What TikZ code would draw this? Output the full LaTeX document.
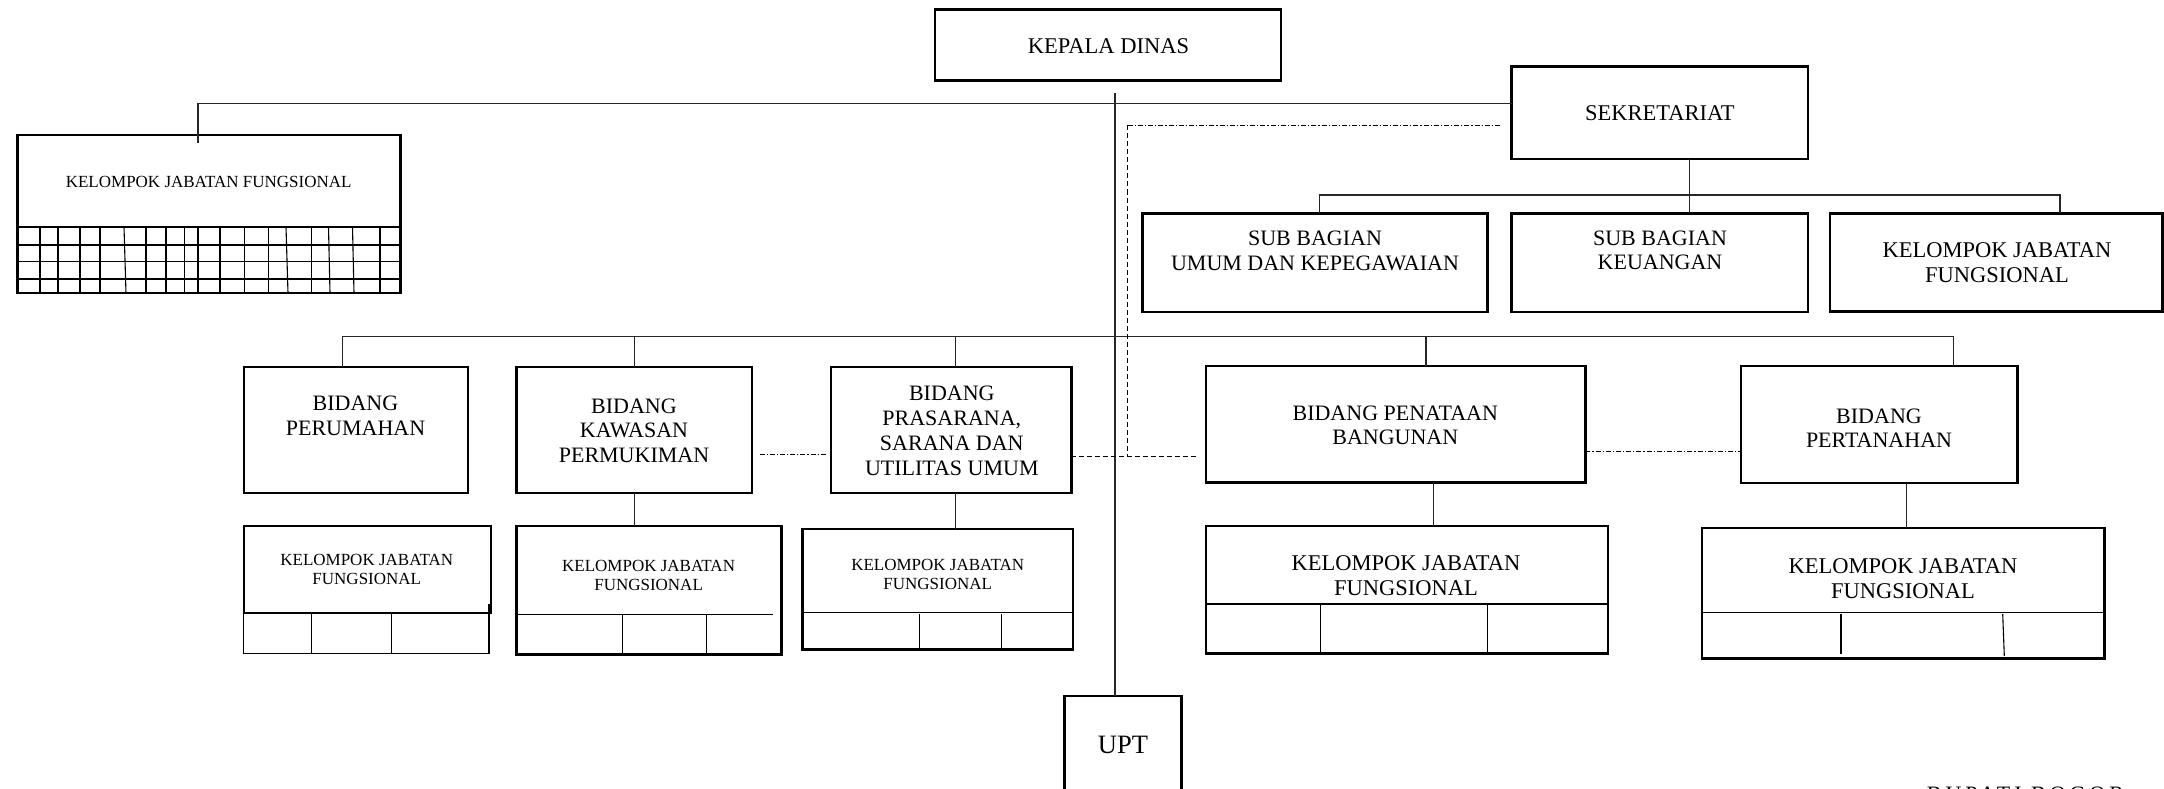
\documentclass[tikz,border=0pt]{standalone}
\usepackage{fontspec}
\setmainfont{Liberation Serif}
\newfontfamily\spacedfont[LetterSpace=18]{Liberation Serif}
\begin{document}
\begin{tikzpicture}[x=1pt,y=-1pt,
  box/.style={draw, line width=2.4pt, inner sep=0pt, outer sep=0pt, anchor=north west},
  conn/.style={line width=1.3pt, draw=black!85},
  thinl/.style={line width=1.1pt},
  divl/.style={line width=1.6pt},
  gridl/.style={line width=1.1pt},
  dashdot/.style={line width=1.1pt, dash pattern=on 5pt off 2pt on 1.2pt off 2pt},
  dashline/.style={line width=1.1pt, dash pattern=on 5pt off 3pt},
  txt/.style={align=center, inner sep=0pt, anchor=base},
  big/.style={font=\fontsize{22.5}{25}\selectfont},
  small/.style={font=\fontsize{17}{19.3}\selectfont},
]
\fill[white] (0,0) rectangle (2164,789);
\useasboundingbox (0,0) rectangle (2164,789);

% ---------- boxes ----------
\node[box, minimum width=346pt,   minimum height=71pt]    (kd)    at (935,9.5) {};
\node[box, minimum width=296.4pt, minimum height=92.3pt]  (sek)   at (1511.6,66.7) {};
\node[box, minimum width=345.1pt, minimum height=98.4pt]  (umum)  at (1142.5,213.3) {};
\node[box, minimum width=296.4pt, minimum height=98.4pt]  (keu)   at (1511.6,213.3) {};
\node[box, minimum width=332.6pt, minimum height=98pt]    (kjfs)  at (1830,213.3) {};
\node[box, minimum width=383pt,   minimum height=158pt]   (kjfl)  at (17.4,135) {};
\node[box, minimum width=224.3pt, minimum height=126pt]   (perum) at (243.7,366.7) {};
\node[box, minimum width=235.4pt, minimum height=126pt]   (kaw)   at (516.6,366.7) {};
\node[box, minimum width=240.6pt, minimum height=126pt]   (pras)  at (830.7,366.7) {};
\node[box, minimum width=379.2pt, minimum height=116.6pt] (pen)   at (1206.2,365.7) {};
\node[box, minimum width=276.4pt, minimum height=117pt]   (pert)  at (1741.2,365.7) {};
\node[box, minimum width=247.3pt, minimum height=86.7pt]  (kjf1)  at (243.7,526) {};
\node[box, minimum width=264.8pt, minimum height=128.3pt] (kjf2)  at (516.6,526) {};
\node[box, minimum width=270.4pt, minimum height=120.3pt] (kjf3)  at (802.5,529) {};
\node[box, minimum width=401.7pt, minimum height=127.6pt] (kjf4)  at (1206.2,525.7) {};
\node[box, minimum width=402.5pt, minimum height=130.6pt] (kjf5)  at (1701.8,527.7) {};
\node[box, minimum width=117pt,   minimum height=150pt]   (upt)   at (1064.6,696) {};

% ---------- inner divisions ----------
% left KJF grid
\draw[line width=2.4pt] (17.4,227) -- (400.4,227);
\foreach \yy in {245,261.5,279} \draw[gridl] (17.4,\yy) -- (400.4,\yy);
\foreach \xa/\xb in {40/40,58/58,80/80,100/100,124/126,146/146,166/166,184.5/184.5,198/198,220/220,244.3/244.3,268.5/268.5,286/288,311.5/311.5,328.5/330,352.5/354,380/380}
  \draw[gridl] (\xa,227) -- (\xb,293);
% KJF1 open cells
\draw[thinl] (243.7,612.7) -- (243.7,653.3) -- (490,653.3);
\draw[thinl] (311.8,612.7) -- (311.8,653.3);
\draw[thinl] (391.8,612.7) -- (391.8,653.3);
\draw[thinl] (489,604) -- (489,653.3);
% KJF2
\draw[divl] (516.6,614.3) -- (773,614.3);
\draw[thinl] (622.6,614.3) -- (622.6,654.3);
\draw[thinl] (706.4,614.3) -- (706.4,654.3);
% KJF3
\draw[divl] (802.5,612.3) -- (1072.9,612.3);
\draw[thinl] (919.1,614) -- (919.1,649.3);
\draw[thinl] (1001.8,614) -- (1001.8,649.3);
% KJF4
\draw[divl] (1206.2,604) -- (1607.9,604);
\draw[thinl] (1320.3,604) -- (1320.3,653.3);
\draw[thinl] (1487.1,604) -- (1487.1,653.3);
% KJF5
\draw[divl] (1701.8,612.3) -- (2104.3,612.3);
\draw[thinl] (1841,614) -- (1841,654);
\draw[thinl] (2002.7,614) -- (2004.3,656);

% ---------- coordinates ----------
\coordinate (mtop) at (1115,93.3);
\coordinate (htopL) at (198,103.3);
\coordinate (kjfltick) at (198,142.7);
\coordinate (sekx) at (1689.8,0);
\coordinate (busSL) at (1319.4,195);
\coordinate (busSR) at (2060.1,195);
\coordinate (busBL) at (342.8,336.7);
\coordinate (busBR) at (1953.5,336.7);
\coordinate (prasx) at (955.2,336.7);
\coordinate (penx) at (1425.9,336.7);
\coordinate (kjf4x) at (1433.8,0);
\coordinate (kjf5x) at (1906.2,0);
\coordinate (ddTop) at (1127.7,125.5);
\coordinate (ddEnd) at (1500,125.5);
\coordinate (dCorner) at (1127.7,456.7);
\coordinate (dEnd) at (1198,456.7);
\coordinate (dd2a) at (759.6,454.3);
\coordinate (dd2b) at (827,454.3);
\coordinate (dd3) at (0,451.7);

% ---------- connectors ----------
\draw[conn] (mtop) -- (mtop |- upt.north);
\draw[conn] (sek.west |- htopL) -- (htopL) -- (kjfltick);
\draw[conn] (sek.south -| sekx) -- (keu.north -| sekx);
\draw[conn] (umum.north -| busSL) -- (busSL) -- (busSR) -- (kjfs.north -| busSR);
\draw[conn] (perum.north -| busBL) -- (busBL) -- (busBR) -- (pert.north -| busBR);
\draw[conn] (kaw.north) -- (kaw.north |- busBL);
\draw[conn] (pras.north -| prasx) -- (prasx);
\draw[conn] (pen.north -| penx) -- (penx);
\draw[conn] (kaw.south) -- (kjf2.north -| kaw.south);
\draw[conn] (pras.south -| prasx) -- (kjf3.north -| prasx);
\draw[conn] (pen.south -| kjf4x) -- (kjf4.north -| kjf4x);
\draw[conn] (pert.south -| kjf5x) -- (kjf5.north -| kjf5x);

% dashed coordination lines
\draw[dashdot] (ddTop) -- (ddEnd);
\draw[dashline] (ddTop) -- (dCorner);
\draw[dashline] (pras.east |- dCorner) -- (dEnd);
\draw[dashdot] (dd2a) -- (dd2b);
\draw[dashdot] (pen.east |- dd3) -- (pert.west |- dd3);

% ---------- texts (base anchor = baseline of last line) ----------
\node[txt, big] (tkd) at (1108.5,53.4) {KEPALA DINAS};
\node[txt, big] (tsek) at (1659.8,120.7) {SEKRETARIAT};
\node[txt, font=\fontsize{22}{25.6}\selectfont] (tumum) at (1315,270.6) {SUB BAGIAN\\UMUM DAN KEPEGAWAIAN};
\node[txt, font=\fontsize{22}{24}\selectfont] (tkeu) at (1660,269) {SUB BAGIAN\\KEUANGAN};
\node[txt, big] (tkjfs) at (1997,282.4) {KELOMPOK JABATAN\\FUNGSIONAL};
\node[txt, small] (tkjfl) at (208.7,187.3) {KELOMPOK JABATAN FUNGSIONAL};
\node[txt, font=\fontsize{22}{24.4}\selectfont] (tperum) at (355.5,435) {BIDANG\\PERUMAHAN};
\node[txt, font=\fontsize{22}{24.5}\selectfont] (tkaw) at (634,462.3) {BIDANG\\KAWASAN\\PERMUKIMAN};
\node[txt, font=\fontsize{22}{25.2}\selectfont] (tpras) at (951.8,475.6) {BIDANG\\PRASARANA,\\SARANA DAN\\UTILITAS UMUM};
\node[txt, font=\fontsize{22}{24.6}\selectfont] (tpen) at (1395.3,444.6) {BIDANG PENATAAN\\BANGUNAN};
\node[txt, font=\fontsize{22}{24.3}\selectfont] (tpert) at (1879,447.3) {BIDANG\\PERTANAHAN};
\node[txt, small] (tkjf1) at (366.8,584.9) {KELOMPOK JABATAN\\FUNGSIONAL};
\node[txt, small] (tkjf2) at (648.6,590.6) {KELOMPOK JABATAN\\FUNGSIONAL};
\node[txt, font=\fontsize{17}{19}\selectfont] (tkjf3) at (937.7,589.6) {KELOMPOK JABATAN\\FUNGSIONAL};
\node[txt, big] (tkjf4) at (1406,595.1) {KELOMPOK JABATAN\\FUNGSIONAL};
\node[txt, font=\fontsize{22.5}{24.7}\selectfont] (tkjf5) at (1903,598.1) {KELOMPOK JABATAN\\FUNGSIONAL};
\node[txt, font=\fontsize{26.5}{28}\selectfont] (tupt) at (1123,753.8) {UPT};
\node[inner sep=0pt, anchor=base west] (tbup) at (1926.7,801.4) {\spacedfont\fontsize{22}{22}\selectfont BUPATI BOGOR};
\end{tikzpicture}
\end{document}
